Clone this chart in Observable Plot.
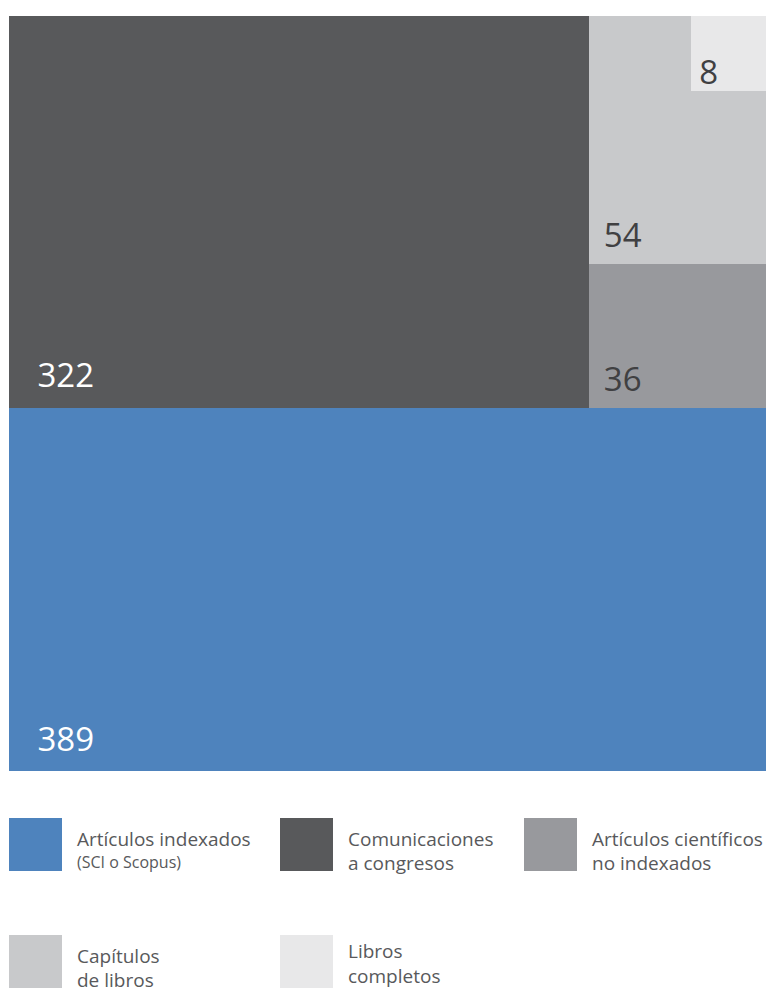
<!DOCTYPE html>
<html>
<head>
<meta charset="utf-8">
<script src="https://cdn.jsdelivr.net/npm/d3@7"></script>
<script src="https://cdn.jsdelivr.net/npm/@observablehq/plot@0.6"></script>
<style>
  html, body { margin: 0; padding: 0; background: #fff; }
  #wrap { position: relative; width: 769px; height: 992px; }
  svg { display: block; }
</style>
</head>
<body>
<div id="wrap"></div>
<script>
// ---- data ----
const categories = ["Artículos indexados", "Comunicaciones a congresos", "Artículos científicos no indexados", "Capítulos de libros", "Libros completos"];
const values = [389, 322, 36, 54, 8];
const colors = ["#4e83bd", "#58595b", "#98999d", "#c8c9cb", "#e8e8e9"];
const legendLine1 = ["Artículos indexados", "Comunicaciones", "Artículos científicos", "Capítulos", "Libros"];
const legendLine2 = ["(SCI o Scopus)", "a congresos", "no indexados", "de libros", "completos"];

// ---- layout (normalized unit square, y up) ----
const total = d3.sum(values);
const [vA, vB, vC, vD, vE] = values;
const a = vA / total;                 // height of bottom strip
const topSum = vB + vC + vD + vE;
const w1 = vB / topSum;               // width of big top-left block
const colSum = vC + vD + vE;
const yC = a + (1 - a) * vC / colSum; // top of the 36 block
const s = Math.sqrt(vE / total);      // side of the small corner square
const rects = [
  {i: 0, x1: 0, x2: 1, y1: 0, y2: a},
  {i: 1, x1: 0, x2: w1, y1: a, y2: 1},
  {i: 2, x1: w1, x2: 1, y1: a, y2: yC},
  {i: 3, x1: w1, x2: 1, y1: yC, y2: 1},
  {i: 4, x1: 1 - s, x2: 1, y1: 1 - s, y2: 1}
].map(d => ({...d, value: values[d.i], fill: colors[d.i], name: categories[d.i]}));

const big = rects.filter(d => d.i <= 1);
const mid = rects.filter(d => d.i === 2 || d.i === 3);
const small = rects.filter(d => d.i === 4);

const font = "'Open Sans', sans-serif";
const chart = Plot.plot({
  width: 769,
  height: 780,
  marginTop: 16,
  marginLeft: 9,
  marginRight: 3,
  marginBottom: 9,
  x: {domain: [0, 1], axis: null},
  y: {domain: [0, 1], axis: null},
  style: {fontFamily: font, background: "#fff"},
  marks: [
    Plot.rect(rects, {x1: "x1", x2: "x2", y1: "y1", y2: "y2", fill: "fill", shapeRendering: "crispEdges"}),
    Plot.text(big, {x: "x1", y: "y1", text: d => String(d.value), textAnchor: "start", lineAnchor: "bottom", dx: 28, dy: -21, fill: "#ffffff", fontSize: 33}),
    Plot.text(mid, {x: "x1", y: "y1", text: d => String(d.value), textAnchor: "start", lineAnchor: "bottom", dx: 14, dy: -17, fill: "#404042", fontSize: 33}),
    Plot.text(small, {x: "x1", y: "y1", text: d => String(d.value), textAnchor: "start", lineAnchor: "bottom", dx: 8, dy: -8, fill: "#404042", fontSize: 33})
  ]
});
document.getElementById("wrap").appendChild(chart);

// ---- legend (below the plot) ----
const legendPos = [[9, 38], [280, 38], [524, 38], [9, 155], [280, 155]];
const lg = d3.select("#wrap").append("svg")
  .attr("width", 769).attr("height", 212)
  .style("font-family", font);
const items = lg.selectAll("g").data(categories).join("g")
  .attr("transform", (d, i) => `translate(${legendPos[i][0]},${legendPos[i][1]})`);
items.append("rect").attr("width", 53).attr("height", 53).attr("fill", (d, i) => colors[i]);
items.append("text").attr("x", 68).attr("y", (d, i) => i === 4 ? 23 : 28)
  .attr("fill", "#58595b").attr("font-size", 19).text((d, i) => legendLine1[i]);
items.append("text").attr("x", 68).attr("y", (d, i) => i === 0 ? 50 : i === 4 ? 48 : 52)
  .attr("fill", "#58595b").attr("font-size", (d, i) => i === 0 ? 16 : 19).text((d, i) => legendLine2[i]);
</script>
</body>
</html>
